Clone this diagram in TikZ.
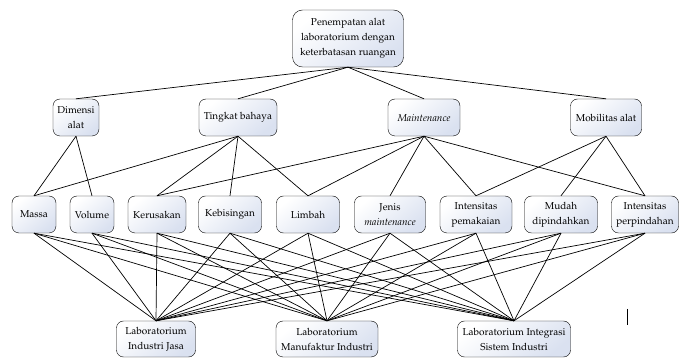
\documentclass[tikz,border=0pt]{standalone}
\usepackage[T1]{fontenc}
\usepackage{mathpazo}
\definecolor{kotakbiru}{RGB}{218,225,240}

\begin{document}
\begin{tikzpicture}[x=1pt,y=-1pt,
    kotak/.style={draw, thin, rounded corners=7pt, align=center, inner sep=1pt,
        top color=white, bottom color=kotakbiru, shading angle=40,
        minimum height=37pt, font=\fontsize{10}{15}\selectfont},
    garis/.style={line width=0.7pt}]

    \useasboundingbox (0,0) rectangle (681,358);

    % 1. Goal
    \node[kotak, minimum width=111pt, minimum height=57pt, rounded corners=10pt] (tujuan) at (348,38.5)
        {Penempatan alat\\laboratorium dengan\\keterbatasan ruangan};

    % 2. Criteria
    \node[kotak, minimum width=46pt] (dimensi) at (76,117.5) {Dimensi\\alat};
    \node[kotak, minimum width=78pt] (bahaya) at (238,117.5) {Tingkat bahaya};
    \node[kotak, minimum width=72pt] (maint) at (424,117.5) {\textit{Maintenance}};
    \node[kotak, minimum width=71pt] (mobilitas) at (606,117.5) {Mobilitas alat};

    % 3. Sub-criteria
    \node[kotak, minimum width=44pt] (massa) at (34,214.5) {Massa};
    \node[kotak, minimum width=44pt] (volume) at (92,214.5) {Volume};
    \node[kotak, minimum width=58pt] (rusak) at (157,214.5) {Kerusakan};
    \node[kotak, minimum width=63pt] (bising) at (230,214.5) {Kebisingan};
    \node[kotak, minimum width=63pt] (limbah) at (308,214.5) {Limbah};
    \node[kotak, minimum width=71pt] (jenis) at (390,214.5) {Jenis\\\textit{maintenance}};
    \node[kotak, minimum width=72pt] (pakai) at (476,214.5) {Intensitas\\pemakaian};
    \node[kotak, minimum width=73pt] (mudah) at (561,214.5) {Mudah\\dipindahkan};
    \node[kotak, minimum width=67pt] (pindah) at (645,214.5) {Intensitas\\perpindahan};

    % 4. Alternatives
    \node[kotak, minimum width=79pt, minimum height=36pt] (jasa) at (156,339) {Laboratorium\\Industri Jasa};
    \node[kotak, minimum width=102pt, minimum height=36pt] (manuf) at (327,339) {Laboratorium\\Manufaktur Industri};
    \node[kotak, minimum width=113pt, minimum height=36pt] (integ) at (514,339) {Laboratorium Integrasi\\Sistem Industri};

    % 5. Goal to criteria
    \foreach \k in {dimensi,bahaya,maint,mobilitas} {
        \draw[garis] (tujuan.south) -- (\k.north);
    }

    % 6. Criteria to sub-criteria
    \draw[garis] (dimensi.south) -- (massa.north);
    \draw[garis] (dimensi.south) -- (volume.north);
    \foreach \s in {massa,rusak,bising,limbah} {
        \draw[garis] (bahaya.south) -- (\s.north);
    }
    \foreach \s in {rusak,limbah,jenis,pakai,pindah} {
        \draw[garis] (maint.south) -- (\s.north);
    }
    \foreach \s in {pakai,mudah,pindah} {
        \draw[garis] (mobilitas.south) -- (\s.north);
    }

    % 7. Sub-criteria to alternatives
    \foreach \s in {massa,volume,rusak,bising,limbah,jenis,pakai,mudah,pindah} {
        \foreach \a in {jasa,manuf,integ} {
            \draw[garis] (\s.south) -- (\a.north);
        }
    }

    % stray mark
    \draw (627,309) -- (627,325);

\end{tikzpicture}
\end{document}
